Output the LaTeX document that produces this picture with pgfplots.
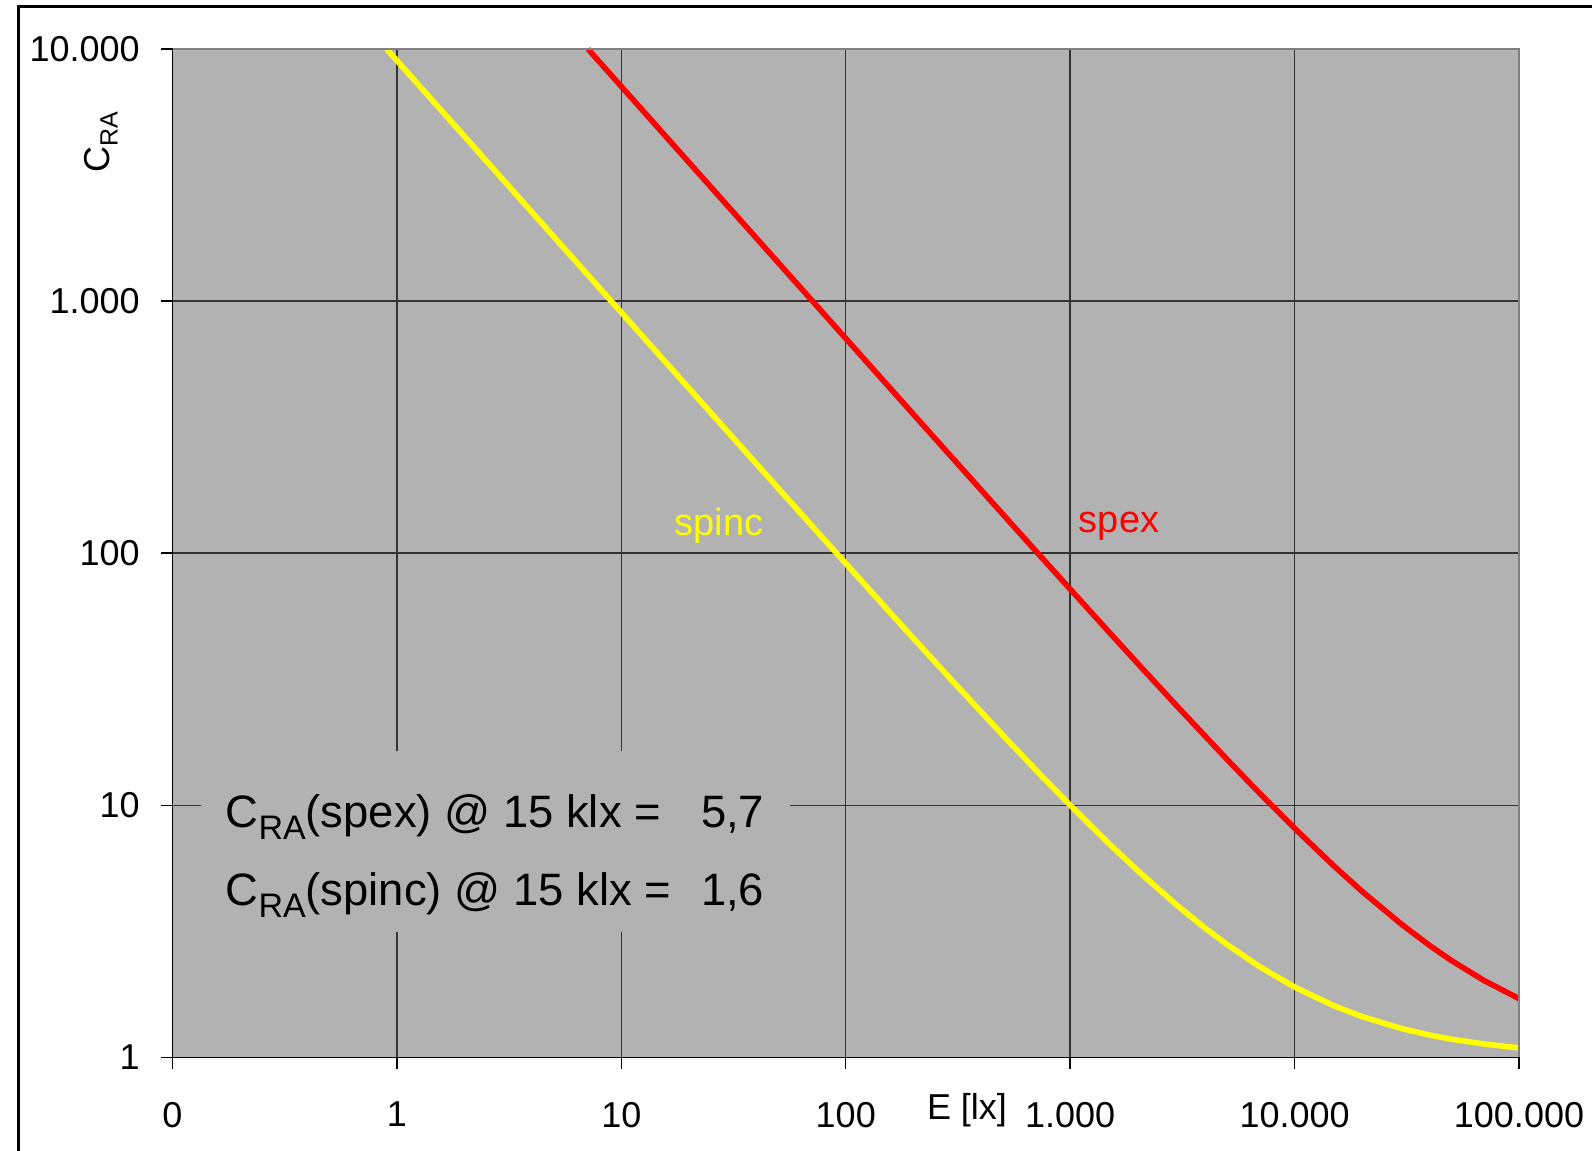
\documentclass[border=0pt]{standalone}
\usepackage{pgfplots}
\pgfplotsset{compat=1.18}
\usepackage{fontspec}
\setmainfont{Liberation Sans}
\definecolor{bggray}{RGB}{178,178,178}
\definecolor{frgray}{RGB}{128,128,128}
\definecolor{cyellow}{RGB}{255,255,0}
\definecolor{cred}{RGB}{255,0,0}

\pgfplotstableread{
x y
7.1 10000
8 8876
10 7101
12.5 5681
15 4734.3
20 3551
30 2367.7
50 1421
70 1015.3
100 711
150 474.3
200 356
300 237.7
500 143
700 102.4
1000 72
1500 48.33
2000 36.5
3000 24.67
5000 15.2
7000 11.14
10000 8.1
15000 5.733
20000 4.55
30000 3.367
40000 2.775
50000 2.42
70000 2.014
100000 1.71
}\spex

\pgfplotstableread{
x y
0.9 10000
1 9001
1.5 6001
2 4501
3 3001
5 1801
7 1286.7
10 901
15 601
20 451
30 301
50 181
70 129.6
100 91
150 61
200 46
300 31
500 19
700 13.86
1000 10
1500 7
2000 5.5
3000 4
4000 3.25
5000 2.8
7000 2.286
10000 1.9
15000 1.6
20000 1.45
30000 1.3
40000 1.225
50000 1.18
70000 1.129
100000 1.09
}\spinc

\begin{document}
\begin{tikzpicture}
\useasboundingbox (-86.25bp,-46.85bp) rectangle (709.75bp,528.65bp);
\begin{axis}[
  at={(0,0)}, anchor=south west,
  scale only axis, width=673.25bp, height=504.15bp,
  xmode=log, ymode=log,
  xmin=0.1, xmax=100000, ymin=1, ymax=10000,
  xtick={0.1,1,10,100,1000,10000,100000},
  xticklabels={0,1,10,100,1.000,10.000,100.000},
  ytick={1,10,100,1000,10000},
  yticklabels={1,10,100,1.000,10.000},
  xminorticks=false, yminorticks=false,
  grid=major,
  major grid style={black!80, line width=0.7bp},
  tick align=outside,
  xtick pos=left, ytick pos=left,
  major tick length=6bp,
  major tick style={black, line width=0.7bp},
  axis background/.style={fill=bggray},
  axis line style={draw=none},
  ticklabel style={font=\fontsize{18bp}{18bp}\selectfont},
  xticklabel style={inner sep=0pt, anchor=north, yshift=-16.2bp},
  yticklabel style={inner sep=0pt, anchor=east, xshift=-10.25bp},
  clip=false,
]
\fill[bggray] (axis cs:0.134,3.145) rectangle (axis cs:56.5,16.4);
\addplot[cred, line width=2.8bp, no marks] table[x=x,y=y] {\spex};
\addplot[cyellow, line width=2.8bp, no marks] table[x=x,y=y] {\spinc};
\node[cred, font=\fontsize{19bp}{19bp}\selectfont, inner sep=0pt] at (axis cs:1652,128) {spex};
\node[cyellow, font=\fontsize{19bp}{19bp}\selectfont, inner sep=0pt] at (axis cs:27.2,129) {spinc};
\node[anchor=base west, inner sep=0pt, font=\fontsize{22.7bp}{22.7bp}\selectfont] at (axis cs:0.172,8.17) {C\raisebox{-6bp}{\fontsize{17bp}{17bp}\selectfont RA}(spex) @ 15 klx =};
\node[anchor=base east, inner sep=0pt, font=\fontsize{22.7bp}{22.7bp}\selectfont] at (axis cs:43.5,8.17) {5,7};
\node[anchor=base west, inner sep=0pt, font=\fontsize{22.7bp}{22.7bp}\selectfont] at (axis cs:0.172,4.0) {C\raisebox{-6bp}{\fontsize{17bp}{17bp}\selectfont RA}(spinc) @ 15 klx =};
\node[anchor=base east, inner sep=0pt, font=\fontsize{22.7bp}{22.7bp}\selectfont] at (axis cs:43.5,4.0) {1,6};
\end{axis}
\draw[frgray, line width=1bp] (0,504.15bp) -- (673.25bp,504.15bp) -- (673.25bp,0);
\draw[black, line width=0.8bp] (0,504.15bp) -- (0,0) -- (673.25bp,0);
\node[rotate=90, inner sep=0pt, font=\fontsize{18bp}{18bp}\selectfont] at (-35.75bp,457.65bp) {C\raisebox{-4bp}{\fontsize{12.5bp}{12.5bp}\selectfont RA}};
\node[inner sep=0pt, font=\fontsize{18bp}{18bp}\selectfont] at (397.25bp,-26.35bp) {E [lx]};
\draw[black, line width=1.5bp] (-76.75bp,-60bp) -- (-76.75bp,525.4bp) -- (720bp,525.4bp);
\end{tikzpicture}
\end{document}
